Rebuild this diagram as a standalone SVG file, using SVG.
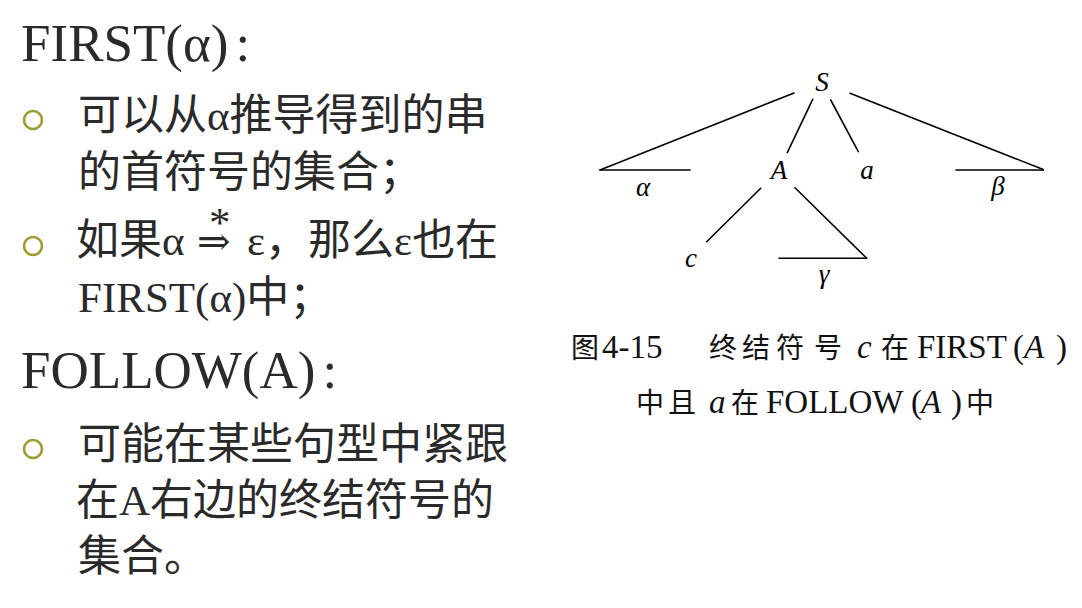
<svg xmlns="http://www.w3.org/2000/svg" width="1082" height="608" viewBox="0 0 1082 608">
<style>
.h{font-family:"Liberation Serif","Times New Roman",serif;font-size:53px;fill:#2a2a2a}
.b{font-family:"Liberation Serif","Noto Sans CJK SC",serif;font-size:43px;fill:#2a2a2a}
.cj{font-family:"Noto Sans CJK SC",sans-serif}
.bul{fill:none;stroke:#9d9a2e;stroke-width:2.6}
.t{font-family:"Liberation Serif","DejaVu Serif",serif;font-style:italic;font-size:27px;fill:#000;text-anchor:middle}
.cap{font-family:"Noto Sans CJK SC",sans-serif;font-size:28px;fill:#111}
.lat{font-family:"Liberation Serif","Times New Roman",serif;font-size:33px;fill:#111}
.it{font-style:italic}
.ln{stroke:#000;stroke-width:1.6;fill:none;stroke-linecap:round}
</style>
<rect width="1082" height="608" fill="#fff"/>
<g id="text-left">
<text class="h" x="21" y="61">FIRST(α)<tspan dx="7">:</tspan></text>
<circle class="bul" cx="33" cy="120" r="9"/>
<text class="b" x="78" y="130"><tspan class="cj">可以从</tspan>α<tspan class="cj">推导得到的串</tspan></text>
<text class="b cj" x="78" y="187">的首符号的集合；</text>
<circle class="bul" cx="33" cy="246" r="9"/>
<text class="b" y="255"><tspan class="cj" x="76">如果</tspan>α<tspan x="197" font-family="DejaVu Serif" font-size="40">⇒</tspan><tspan x="247">ε</tspan><tspan class="cj">，那么</tspan>ε<tspan class="cj">也在</tspan></text>
<text class="b" x="209" y="237" font-size="26">*</text>
<text class="b" x="78" y="312">FIRST(α)<tspan class="cj">中；</tspan></text>
<text class="h" x="21" y="388">FOLLOW(A)<tspan dx="7">:</tspan></text>
<circle class="bul" cx="33" cy="449" r="9"/>
<text class="b cj" x="78" y="459">可能在某些句型中紧跟</text>
<text class="b" x="76" y="515"><tspan class="cj">在</tspan>A<tspan class="cj">右边的终结符号的</tspan></text>
<text class="b cj" x="78" y="571">集合。</text>
</g>
<g id="connectors">
<line class="ln" x1="794" y1="93" x2="600" y2="170"/>
<line class="ln" x1="600" y1="170" x2="690" y2="170"/>
<line class="ln" x1="812.7" y1="99.3" x2="787.3" y2="152.7"/>
<line class="ln" x1="830.7" y1="100" x2="858.3" y2="151.7"/>
<line class="ln" x1="850" y1="93.3" x2="1043.3" y2="169.5"/>
<line class="ln" x1="956" y1="170" x2="1043.3" y2="170"/>
<line class="ln" x1="760.7" y1="188.3" x2="706.7" y2="241.7"/>
<line class="ln" x1="795" y1="187.7" x2="866.7" y2="258.3"/>
<line class="ln" x1="779" y1="258.3" x2="866.7" y2="258.3"/>
</g>
<g id="node-S"><text class="t" x="822" y="91">S</text></g>
<g id="node-alpha"><text class="t" x="643" y="196">α</text></g>
<g id="node-A"><text class="t" x="779" y="179">A</text></g>
<g id="node-a"><text class="t" x="867" y="179">a</text></g>
<g id="node-beta"><text class="t" x="998" y="195">β</text></g>
<g id="node-c"><text class="t" x="691" y="267">c</text></g>
<g id="node-gamma"><text class="t" x="824" y="283">γ</text></g>
<g id="caption">
<text class="cap" y="358"><tspan x="571">图</tspan><tspan class="lat" x="602">4-15</tspan><tspan x="709">终</tspan><tspan x="742">结</tspan><tspan x="776">符</tspan><tspan x="814">号</tspan><tspan class="lat it" x="857">c</tspan><tspan x="881">在</tspan><tspan class="lat" x="917">FIRST</tspan><tspan class="lat" x="1013">(</tspan><tspan class="lat it" x="1024">A</tspan><tspan class="lat" x="1056">)</tspan></text>
<text class="cap" y="413"><tspan x="636">中</tspan><tspan x="668">且</tspan><tspan class="lat it" x="709">a</tspan><tspan x="731">在</tspan><tspan class="lat" x="766">FOLLOW</tspan><tspan class="lat" x="911">(</tspan><tspan class="lat it" x="921">A</tspan><tspan class="lat" x="951">)</tspan><tspan x="966">中</tspan></text>
</g>
</svg>
